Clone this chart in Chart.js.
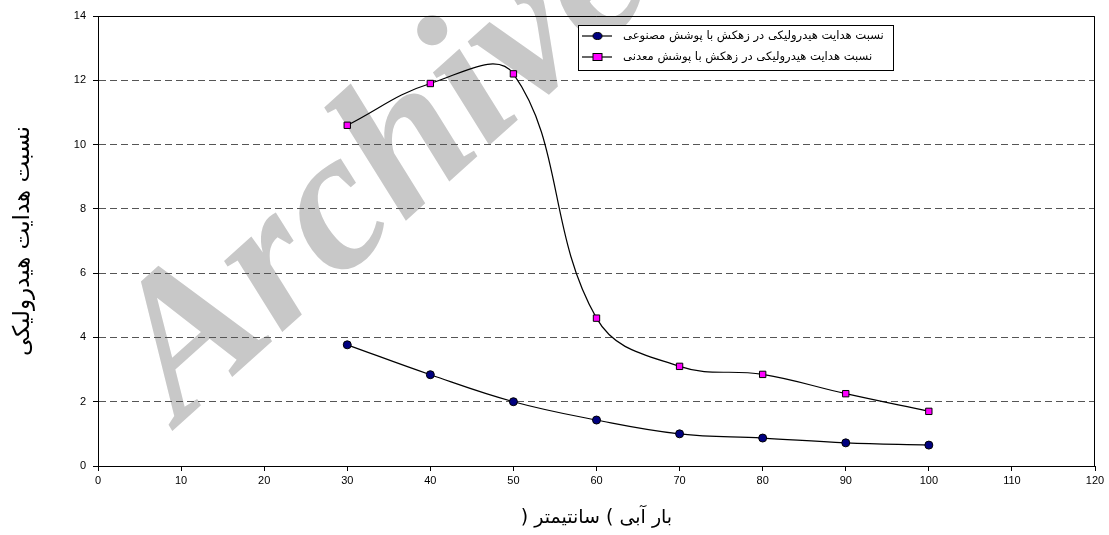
<!DOCTYPE html>
<html>
<head>
<meta charset="utf-8">
<script src="https://cdn.jsdelivr.net/npm/chart.js@4/dist/chart.umd.min.js"></script>
<style>
  html, body { margin: 0; padding: 0; background: #fff; }
  canvas { display: block; direction: rtl; }
</style>
</head>
<body>
<canvas id="chart" width="1109" height="535"></canvas>
<script>
// values
const waterHead = [30, 40, 50, 60, 70, 80, 90, 100];
const syntheticRatio = [3.77, 2.84, 2.0, 1.43, 1.0, 0.87, 0.72, 0.65];
const mineralRatio = [10.6, 11.9, 12.2, 4.6, 3.1, 2.85, 2.25, 1.7];

const seriesLabels = [
    'نسبت هدایت هیدرولیکی در زهکش با پوشش مصنوعی',
    'نسبت هدایت هیدرولیکی در زهکش با پوشش معدنی'
];
const xTitle = 'بار آبی ) سانتیمتر (';
const yTitle = 'نسبت هدایت هیدرولیکی';
const watermarkText = 'Archive';

const persianFont = "'DejaVu Sans', Tahoma, sans-serif";
const numberFont = "'Liberation Sans', Arial, sans-serif";

function toPoints(values) {
    return values.map((v, i) => ({ x: waterHead[i], y: v }));
}

// grey watermark behind everything
const watermark = {
    id: 'watermark',
    beforeDraw(chart) {
        const ctx = chart.ctx;
        ctx.save();
        ctx.translate(180, 424);
        ctx.rotate(-42 * Math.PI / 180);
        ctx.direction = 'ltr';
        ctx.font = "bold italic 200px 'Liberation Serif', 'Times New Roman', serif";
        ctx.fillStyle = '#c8c8c8';
        ctx.textAlign = 'left';
        ctx.textBaseline = 'alphabetic';
        ctx.fillText(watermarkText, 0, 0);
        ctx.restore();
    }
};

// solid frame on top and right of the plot area
const frame = {
    id: 'frame',
    beforeDatasetsDraw(chart) {
        const { ctx, chartArea: a } = chart;
        ctx.save();
        ctx.strokeStyle = '#000';
        ctx.lineWidth = 1;
        ctx.beginPath();
        ctx.moveTo(a.left, a.top + 0.5);
        ctx.lineTo(a.right - 0.5, a.top + 0.5);
        ctx.lineTo(a.right - 0.5, a.bottom);
        ctx.stroke();
        ctx.restore();
    }
};

// legend box like the original: line + marker, then the label
const boxLegend = {
    id: 'boxLegend',
    afterDraw(chart) {
        const ctx = chart.ctx;
        const left = 578, top = 25, width = 315, height = 45;
        ctx.save();
        ctx.fillStyle = '#fff';
        ctx.fillRect(left, top, width, height);
        ctx.strokeStyle = '#000';
        ctx.lineWidth = 1;
        ctx.strokeRect(left + 0.5, top + 0.5, width, height);

        chart.data.datasets.forEach((ds, i) => {
            const y = top + 11 + i * 21;
            ctx.strokeStyle = ds.borderColor;
            ctx.lineWidth = 1.2;
            ctx.beginPath();
            ctx.moveTo(left + 4, y);
            ctx.lineTo(left + 34, y);
            ctx.stroke();
            ctx.fillStyle = ds.pointBackgroundColor;
            ctx.strokeStyle = ds.pointBorderColor;
            ctx.lineWidth = 1;
            if (ds.pointStyle === 'rect') {
                ctx.fillRect(left + 15, y - 3.5, 9, 7);
                ctx.strokeRect(left + 15, y - 3.5, 9, 7);
            } else {
                ctx.beginPath();
                ctx.ellipse(left + 19.5, y, 4.5, 3.5, 0, 0, Math.PI * 2);
                ctx.fill();
                ctx.stroke();
            }
            ctx.fillStyle = '#000';
            ctx.font = '11.6px ' + persianFont;
            ctx.direction = 'rtl';
            ctx.textAlign = 'left';
            ctx.textBaseline = 'middle';
            ctx.fillText(ds.label, left + 45, y);
        });
        ctx.restore();
    }
};

new Chart(document.getElementById('chart'), {
    type: 'line',
    data: {
        datasets: [
            {
                label: seriesLabels[0],
                data: toPoints(syntheticRatio),
                borderColor: '#000',
                borderWidth: 1.2,
                tension: 0.4,
                pointStyle: 'circle',
                pointRadius: 4,
                pointBackgroundColor: '#000080',
                pointBorderColor: '#000',
                pointBorderWidth: 1
            },
            {
                label: seriesLabels[1],
                data: toPoints(mineralRatio),
                borderColor: '#000',
                borderWidth: 1.2,
                tension: 0.4,
                pointStyle: 'rect',
                pointRadius: 4.5,
                pointBackgroundColor: '#ff00ff',
                pointBorderColor: '#000',
                pointBorderWidth: 1
            }
        ]
    },
    options: {
        responsive: false,
        animation: false,
        layout: { padding: { top: 16, right: 14, left: 0, bottom: 0 } },
        plugins: {
            legend: { display: false },
            tooltip: { enabled: false }
        },
        scales: {
            x: {
                type: 'linear',
                min: 0,
                max: 120,
                ticks: { stepSize: 10, color: '#000', font: { family: numberFont, size: 11 }, padding: 3, maxRotation: 0 },
                grid: { drawOnChartArea: false, drawTicks: true, tickLength: 5, tickColor: '#000' },
                border: { color: '#000', width: 1 },
                title: {
                    display: true,
                    text: xTitle,
                    color: '#000',
                    font: { family: persianFont, size: 19 },
                    padding: { top: 0, bottom: 6 }
                },
                afterFit(scale) { scale.height = 69; }
            },
            y: {
                min: 0,
                max: 14,
                ticks: { stepSize: 2, color: '#000', font: { family: numberFont, size: 11 }, padding: 7 },
                grid: { color: '#555', lineWidth: 1, tickLength: 5, tickColor: '#000', tickBorderDash: [] },
                border: { color: '#000', width: 1, dash: [7, 4] },
                title: {
                    display: true,
                    text: yTitle,
                    color: '#000',
                    font: { family: persianFont, size: 23 },
                    padding: { top: 9, bottom: 0 }
                },
                afterFit(scale) { scale.width = 98; }
            }
        }
    },
    plugins: [watermark, frame, boxLegend]
});
</script>
</body>
</html>
